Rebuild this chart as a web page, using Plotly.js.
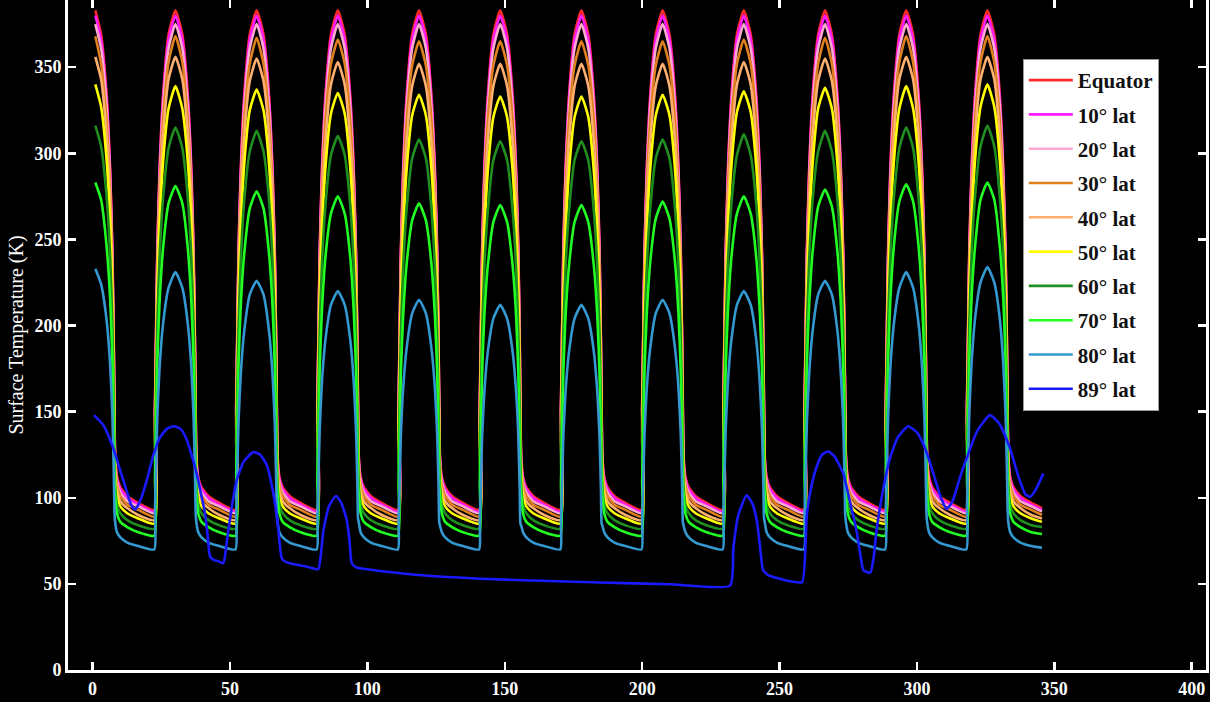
<!DOCTYPE html>
<html>
<head>
<meta charset="utf-8">
<script src="https://cdn.plot.ly/plotly-3.0.1.min.js"></script>
<style>html,body{margin:0;padding:0;background:#000;}#chart{width:1210px;height:702px;}</style>
</head>
<body>
<div id="chart"></div>
<script>
// Shared day axis for the latitude series (days)
const days = [
1, 3.1, 5.1, 6.4, 7.2, 7.7, 7.95, 8.2, 8.9, 10.1, 12.6, 16.6,
22.45, 22.7, 23.05, 23.55, 24.35, 25.65, 27.65, 30.15, 32.65, 34.65, 35.95, 36.75, 37.25, 37.5, 37.75, 38.45, 39.65, 42.15, 46.15,
52, 52.25, 52.6, 53.1, 53.9, 55.2, 57.2, 59.7, 62.2, 64.2, 65.5, 66.3, 66.8, 67.05, 67.3, 68, 69.2, 71.7, 75.7,
81.55, 81.8, 82.15, 82.65, 83.45, 84.75, 86.75, 89.25, 91.75, 93.75, 95.05, 95.85, 96.35, 96.6, 96.85, 97.55, 98.75, 101.25, 105.25,
111.1, 111.35, 111.7, 112.2, 113, 114.3, 116.3, 118.8, 121.3, 123.3, 124.6, 125.4, 125.9, 126.15, 126.4, 127.1, 128.3, 130.8, 134.8,
140.65, 140.9, 141.25, 141.75, 142.55, 143.85, 145.85, 148.35, 150.85, 152.85, 154.15, 154.95, 155.45, 155.7, 155.95, 156.65, 157.85, 160.35, 164.35,
170.2, 170.45, 170.8, 171.3, 172.1, 173.4, 175.4, 177.9, 180.4, 182.4, 183.7, 184.5, 185, 185.25, 185.5, 186.2, 187.4, 189.9, 193.9,
199.75, 200, 200.35, 200.85, 201.65, 202.95, 204.95, 207.45, 209.95, 211.95, 213.25, 214.05, 214.55, 214.8, 215.05, 215.75, 216.95, 219.45, 223.45,
229.3, 229.55, 229.9, 230.4, 231.2, 232.5, 234.5, 237, 239.5, 241.5, 242.8, 243.6, 244.1, 244.35, 244.6, 245.3, 246.5, 249, 253,
258.85, 259.1, 259.45, 259.95, 260.75, 262.05, 264.05, 266.55, 269.05, 271.05, 272.35, 273.15, 273.65, 273.9, 274.15, 274.85, 276.05, 278.55, 282.55,
288.4, 288.65, 289, 289.5, 290.3, 291.6, 293.6, 296.1, 298.6, 300.6, 301.9, 302.7, 303.2, 303.45, 303.7, 304.4, 305.6, 308.1, 312.1,
317.95, 318.2, 318.55, 319.05, 319.85, 321.15, 323.15, 325.65, 328.15, 330.15, 331.45, 332.25, 332.75, 333, 333.25, 333.95, 335.15, 337.65, 341.65,
345.5];

const equator = [
383, 369, 334, 290, 244, 190, 153, 125, 112, 106, 101, 97,
93, 153, 190, 244, 290, 334, 369, 383, 369, 334, 290, 244, 190, 153, 125, 112, 106, 101, 97,
93, 153, 190, 244, 290, 334, 369, 383, 369, 334, 290, 244, 190, 153, 125, 112, 106, 101, 97,
93, 153, 190, 244, 290, 334, 369, 383, 369, 334, 290, 244, 190, 153, 125, 112, 106, 101, 97,
93, 153, 190, 244, 290, 334, 369, 383, 369, 334, 290, 244, 190, 153, 125, 112, 106, 101, 97,
93, 153, 190, 244, 290, 334, 369, 383, 369, 334, 290, 244, 190, 153, 125, 112, 106, 101, 97,
93, 153, 190, 244, 290, 334, 369, 383, 369, 334, 290, 244, 190, 153, 125, 112, 106, 101, 97,
93, 153, 190, 244, 290, 334, 369, 383, 369, 334, 290, 244, 190, 153, 125, 112, 106, 101, 97,
93, 153, 190, 244, 290, 334, 369, 383, 369, 334, 290, 244, 190, 153, 125, 112, 106, 101, 97,
93, 153, 190, 244, 290, 334, 369, 383, 369, 334, 290, 244, 190, 153, 125, 112, 106, 101, 97,
93, 153, 190, 244, 290, 334, 369, 383, 369, 334, 290, 244, 190, 153, 125, 112, 106, 101, 97,
93, 153, 190, 244, 290, 334, 369, 383, 369, 334, 290, 244, 190, 153, 125, 112, 106, 101, 97,
94];

const lat10 = [
380, 366, 331, 288, 242, 189, 152, 124, 111, 105, 100, 96,
92, 152, 189, 242, 288, 331, 366, 380, 366, 331, 288, 242, 189, 152, 124, 111, 105, 100, 96,
92, 152, 189, 242, 288, 331, 366, 380, 366, 331, 288, 242, 189, 152, 124, 111, 105, 100, 96,
92, 152, 189, 242, 288, 331, 366, 380, 366, 331, 288, 242, 189, 152, 124, 111, 105, 100, 96,
92, 152, 189, 242, 288, 331, 366, 380, 366, 331, 288, 242, 189, 152, 124, 111, 105, 100, 96,
92, 152, 189, 242, 288, 331, 366, 380, 366, 331, 288, 242, 189, 152, 124, 111, 105, 100, 96,
92, 152, 189, 242, 288, 331, 366, 380, 366, 331, 288, 242, 189, 152, 124, 111, 105, 100, 96,
92, 152, 189, 242, 288, 331, 366, 380, 366, 331, 288, 242, 189, 152, 124, 111, 105, 100, 96,
92, 152, 189, 242, 288, 331, 366, 380, 366, 331, 288, 242, 189, 152, 124, 111, 105, 100, 96,
92, 152, 189, 242, 288, 331, 366, 380, 366, 331, 288, 242, 189, 152, 124, 111, 105, 100, 96,
92, 152, 189, 242, 288, 331, 366, 380, 366, 331, 288, 242, 189, 152, 124, 111, 105, 100, 96,
92, 152, 189, 242, 288, 331, 366, 380, 366, 331, 288, 242, 189, 152, 124, 111, 105, 100, 96,
93];

const lat20 = [
375, 361, 327, 284, 239, 186, 150, 122, 109, 103, 98, 95,
91, 150, 186, 239, 284, 327, 361, 375, 361, 327, 284, 239, 186, 150, 122, 109, 103, 98, 95,
91, 150, 186, 239, 284, 327, 361, 375, 361, 327, 284, 239, 186, 150, 122, 109, 103, 98, 95,
91, 150, 186, 239, 284, 327, 361, 375, 361, 327, 284, 239, 186, 150, 122, 109, 103, 98, 95,
91, 150, 186, 239, 284, 327, 361, 375, 361, 327, 284, 239, 186, 150, 122, 109, 103, 98, 95,
91, 150, 186, 239, 284, 327, 361, 375, 361, 327, 284, 239, 186, 150, 122, 109, 103, 98, 95,
91, 150, 186, 239, 284, 327, 361, 375, 361, 327, 284, 239, 186, 150, 122, 109, 103, 98, 95,
91, 150, 186, 239, 284, 327, 361, 375, 361, 327, 284, 239, 186, 150, 122, 109, 103, 98, 95,
91, 150, 186, 239, 284, 327, 361, 375, 361, 327, 284, 239, 186, 150, 122, 109, 103, 98, 95,
91, 150, 186, 239, 284, 327, 361, 375, 361, 327, 284, 239, 186, 150, 122, 109, 103, 98, 95,
91, 150, 186, 239, 284, 327, 361, 375, 361, 327, 284, 239, 186, 150, 122, 109, 103, 98, 95,
91, 150, 186, 239, 284, 327, 361, 375, 361, 327, 284, 239, 186, 150, 122, 109, 103, 98, 95,
92];

const lat30 = [
368, 352, 319, 277, 233, 182, 146, 120, 107, 101, 96, 93,
89, 146, 182, 233, 277, 319, 353, 368, 353, 319, 277, 233, 182, 146, 120, 107, 101, 96, 93,
89, 146, 182, 233, 277, 319, 352, 367, 352, 319, 277, 233, 182, 146, 120, 107, 101, 96, 93,
89, 146, 182, 233, 277, 319, 352, 366, 352, 319, 277, 233, 182, 146, 120, 107, 101, 96, 93,
89, 146, 182, 233, 277, 319, 351, 365, 351, 319, 277, 233, 182, 146, 120, 107, 101, 96, 93,
89, 146, 182, 233, 277, 319, 351, 365, 351, 319, 277, 233, 182, 146, 120, 107, 101, 96, 93,
89, 146, 182, 233, 277, 319, 351, 365, 351, 319, 277, 233, 182, 146, 120, 107, 101, 96, 93,
89, 146, 182, 233, 277, 319, 351, 365, 351, 319, 277, 233, 182, 146, 120, 107, 101, 96, 93,
89, 146, 182, 233, 277, 319, 352, 366, 352, 319, 277, 233, 182, 146, 120, 107, 101, 96, 93,
89, 146, 182, 233, 277, 319, 352, 367, 352, 319, 277, 233, 182, 146, 120, 107, 101, 96, 93,
89, 146, 182, 233, 277, 319, 353, 368, 353, 319, 277, 233, 182, 146, 120, 107, 101, 96, 93,
89, 146, 182, 233, 277, 319, 353, 368, 353, 319, 277, 233, 182, 146, 120, 107, 101, 96, 93,
90];

const lat40 = [
356, 343, 310, 270, 227, 177, 142, 117, 104, 98, 94, 90,
87, 142, 177, 227, 270, 310, 343, 356, 343, 310, 270, 227, 177, 142, 117, 104, 98, 94, 90,
87, 142, 177, 227, 270, 310, 342, 355, 342, 310, 270, 227, 177, 142, 117, 104, 98, 94, 90,
87, 141, 175, 224, 267, 307, 340, 353, 340, 307, 267, 224, 175, 141, 117, 104, 98, 94, 90,
87, 141, 175, 224, 267, 307, 339, 352, 339, 307, 267, 224, 175, 141, 117, 104, 98, 94, 90,
87, 141, 175, 224, 267, 307, 339, 352, 339, 307, 267, 224, 175, 141, 117, 104, 98, 94, 90,
87, 141, 175, 224, 267, 307, 339, 352, 339, 307, 267, 224, 175, 141, 117, 104, 98, 94, 90,
87, 141, 175, 224, 267, 307, 339, 352, 339, 307, 267, 224, 175, 141, 117, 104, 98, 94, 90,
87, 141, 175, 224, 267, 307, 340, 353, 340, 307, 267, 224, 175, 141, 117, 104, 98, 94, 90,
87, 142, 177, 227, 270, 310, 342, 355, 342, 310, 270, 227, 177, 142, 117, 104, 98, 94, 90,
87, 142, 177, 227, 270, 310, 343, 356, 343, 310, 270, 227, 177, 142, 117, 104, 98, 94, 90,
87, 142, 177, 227, 270, 310, 343, 356, 343, 310, 270, 227, 177, 142, 117, 104, 98, 94, 90,
88];

const lat50 = [
340, 327, 296, 258, 217, 169, 136, 113, 100, 95, 91, 88,
85, 136, 168, 216, 257, 295, 326, 339, 326, 295, 257, 216, 168, 136, 113, 100, 95, 91, 88,
85, 135, 167, 215, 255, 294, 325, 337, 325, 294, 255, 215, 167, 135, 113, 100, 95, 91, 88,
85, 134, 166, 213, 254, 292, 323, 335, 323, 292, 254, 213, 166, 134, 113, 100, 95, 91, 88,
85, 134, 166, 213, 253, 291, 322, 334, 322, 291, 253, 213, 166, 134, 113, 100, 95, 91, 88,
85, 133, 166, 212, 252, 290, 321, 333, 321, 290, 252, 212, 166, 133, 113, 100, 95, 91, 88,
85, 133, 166, 212, 252, 290, 321, 333, 321, 290, 252, 212, 166, 133, 113, 100, 95, 91, 88,
85, 134, 166, 213, 253, 291, 322, 334, 322, 291, 253, 213, 166, 134, 113, 100, 95, 91, 88,
85, 134, 167, 214, 255, 293, 324, 336, 324, 293, 255, 214, 167, 134, 113, 100, 95, 91, 88,
85, 135, 168, 215, 256, 294, 326, 338, 326, 294, 256, 215, 168, 135, 113, 100, 95, 91, 88,
85, 136, 168, 216, 257, 295, 326, 339, 326, 295, 257, 216, 168, 136, 113, 100, 95, 91, 88,
85, 136, 169, 217, 258, 296, 327, 340, 327, 296, 258, 217, 169, 136, 113, 100, 95, 91, 88,
86];

const lat60 = [
316, 304, 275, 240, 201, 157, 126, 108, 96, 91, 87, 84,
82, 126, 157, 201, 239, 274, 303, 315, 303, 274, 239, 201, 157, 126, 108, 96, 91, 87, 84,
82, 125, 156, 199, 237, 273, 301, 313, 301, 273, 237, 199, 156, 125, 108, 96, 91, 87, 84,
82, 124, 154, 197, 235, 270, 299, 310, 299, 270, 235, 197, 154, 124, 108, 96, 91, 87, 84,
82, 123, 153, 196, 233, 268, 297, 308, 297, 268, 233, 196, 153, 123, 108, 96, 91, 87, 84,
82, 123, 153, 196, 233, 267, 296, 307, 296, 267, 233, 196, 153, 123, 108, 96, 91, 87, 84,
82, 123, 153, 196, 233, 267, 296, 307, 296, 267, 233, 196, 153, 123, 108, 96, 91, 87, 84,
82, 123, 153, 196, 233, 268, 297, 308, 297, 268, 233, 196, 153, 123, 108, 96, 91, 87, 84,
82, 124, 155, 198, 236, 271, 299, 311, 299, 271, 236, 198, 155, 124, 108, 96, 91, 87, 84,
82, 125, 156, 199, 237, 273, 301, 313, 301, 273, 237, 199, 156, 125, 108, 96, 91, 87, 84,
82, 126, 157, 201, 239, 274, 303, 315, 303, 274, 239, 201, 157, 126, 108, 96, 91, 87, 84,
82, 126, 157, 201, 240, 275, 304, 316, 304, 275, 240, 201, 157, 126, 108, 96, 91, 87, 84,
83];

const lat70 = [
283, 273, 246, 215, 180, 141, 113, 102, 91, 86, 83, 80,
78, 112, 140, 179, 213, 245, 271, 281, 271, 245, 213, 179, 140, 112, 102, 91, 86, 83, 80,
78, 111, 138, 177, 211, 242, 268, 278, 268, 242, 211, 177, 138, 111, 102, 91, 86, 83, 80,
78, 110, 137, 175, 208, 240, 265, 275, 265, 240, 208, 175, 137, 110, 102, 91, 86, 83, 80,
78, 108, 135, 173, 205, 236, 261, 271, 261, 236, 205, 173, 135, 108, 102, 91, 86, 83, 80,
78, 108, 134, 172, 205, 235, 260, 270, 260, 235, 205, 172, 134, 108, 102, 91, 86, 83, 80,
78, 108, 134, 172, 205, 235, 260, 270, 260, 235, 205, 172, 134, 108, 102, 91, 86, 83, 80,
78, 109, 135, 173, 206, 237, 262, 272, 262, 237, 206, 173, 135, 109, 102, 91, 86, 83, 80,
78, 110, 137, 175, 208, 240, 265, 275, 265, 240, 208, 175, 137, 110, 102, 91, 86, 83, 80,
78, 112, 139, 178, 211, 243, 269, 279, 269, 243, 211, 178, 139, 112, 102, 91, 86, 83, 80,
78, 113, 140, 180, 214, 246, 272, 282, 272, 246, 214, 180, 140, 113, 102, 91, 86, 83, 80,
78, 113, 141, 180, 215, 246, 273, 283, 273, 246, 215, 180, 141, 113, 102, 91, 86, 83, 80,
79];

const lat80 = [
233, 224, 203, 177, 148, 116, 93, 86, 80, 77, 74, 72,
70, 92, 115, 147, 175, 201, 222, 231, 222, 201, 175, 147, 115, 92, 86, 80, 77, 74, 72,
70, 90, 112, 144, 171, 197, 218, 226, 218, 197, 171, 144, 112, 90, 86, 80, 77, 74, 72,
70, 88, 109, 140, 167, 192, 212, 220, 212, 192, 167, 140, 109, 88, 86, 80, 77, 74, 72,
70, 86, 107, 137, 163, 187, 207, 215, 207, 187, 163, 137, 107, 86, 84, 80, 77, 74, 72,
70, 85, 105, 135, 161, 185, 204, 212, 204, 185, 161, 135, 105, 85, 84, 80, 77, 74, 72,
70, 85, 105, 135, 161, 185, 204, 212, 204, 185, 161, 135, 105, 85, 84, 80, 77, 74, 72,
70, 86, 107, 137, 163, 187, 207, 215, 207, 187, 163, 137, 107, 86, 84, 80, 77, 74, 72,
70, 88, 109, 140, 167, 192, 212, 220, 212, 192, 167, 140, 109, 88, 86, 80, 77, 74, 72,
70, 90, 112, 144, 171, 197, 218, 226, 218, 197, 171, 144, 112, 90, 86, 80, 77, 74, 72,
70, 92, 115, 147, 175, 201, 222, 231, 222, 201, 175, 147, 115, 92, 86, 80, 77, 74, 72,
70, 94, 116, 149, 177, 204, 225, 234, 225, 204, 177, 149, 116, 94, 86, 80, 77, 74, 72,
71];

// 89° latitude has its own sampling
const poleDays = [0.5, 4, 7.5, 10, 12.4, 14, 15.4, 17, 19.7, 22, 24.5, 27, 29.6, 32, 34.2, 36, 37.9, 39.5, 40.9, 42, 42.7, 44, 46, 47.6, 48.5, 49.4, 51, 52.4, 55, 58.5, 61, 63.4, 65.5, 67, 68, 68.8, 70, 73, 78, 82.1, 83, 84, 86, 88.6, 90.5, 92.5, 93.5, 94.3, 96, 100, 104.6, 120, 141, 160, 184.7, 210, 232, 233.2, 235, 238, 240, 241.7, 243, 244, 246, 250.1, 254, 258.2, 259.9, 261.5, 263.5, 265.5, 267.7, 270, 273.2, 276, 278, 279.5, 280.5, 283, 284.3, 285.3, 287.5, 290.2, 293, 296.8, 300, 302.9, 306, 308.5, 310.8, 313, 315.5, 318.1, 322, 326.6, 330, 333.8, 337, 339.5, 341.1, 343, 346];
const lat89 = [148, 142, 129, 116, 104, 96, 93, 97, 110, 124, 135, 140, 141.5, 140, 134, 125, 114, 102, 91, 76, 66, 64, 63, 62, 70, 81, 98, 110, 121, 126.5, 125, 119, 105, 90, 75, 65, 63, 61.5, 60, 58.5, 66, 81, 95, 101, 97, 87, 75, 62, 59.5, 58.5, 57.5, 55, 53, 52, 50.8, 49.8, 49, 71, 90, 101.5, 97, 87, 70, 58, 55, 53, 51.5, 51, 90, 106, 118, 125, 127, 124, 114, 95, 81, 66, 58, 56.5, 66, 81, 103, 123, 135, 141.5, 138, 129, 114, 101, 93.5, 98, 111, 123, 139, 148, 143, 129, 112, 102, 100.5, 104, 114];

const seriesNames = ['Equator', '10° lat', '20° lat', '30° lat', '40° lat', '50° lat', '60° lat', '70° lat', '80° lat', '89° lat'];
const seriesColors = ['#ff2a2a', '#ff1aff', '#ffa8d0', '#e0801e', '#ffb070', '#ffff00', '#1f8f1f', '#22ff22', '#3399d0', '#1a1aff'];
const seriesY = [equator, lat10, lat20, lat30, lat40, lat50, lat60, lat70, lat80, lat89];

const traces = seriesY.map((y, i) => ({
  type: 'scatter', mode: 'lines',
  x: i === 9 ? poleDays : days, y: y,
  name: seriesNames[i], legendgroup: 'g' + i,
  line: {color: seriesColors[i], width: 2.6, shape: 'spline', smoothing: 0.5}
}));

const axisFont = {family: 'Liberation Serif', size: 18, color: '#ffffff', weight: 'bold'};
const layout = {
  width: 1210, height: 702,
  paper_bgcolor: '#000', plot_bgcolor: '#000',
  margin: {l: 68, r: 4, t: 0, b: 32},
  showlegend: true,
  legend: {
    x: 0.839, y: 0.912, xanchor: 'left', yanchor: 'top',
    bgcolor: '#ffffff', bordercolor: '#999999', borderwidth: 1,
    font: {family: 'Liberation Serif', size: 21, color: '#111', weight: 'bold'},
    itemwidth: 44, tracegroupgap: 4, traceorder: 'grouped'
  },
  xaxis: {
    range: [-8.95, 405.2], tickvals: [0, 50, 100, 150, 200, 250, 300, 350, 400],
    showgrid: false, zeroline: false, showline: true, linecolor: '#fff', linewidth: 3,
    mirror: 'ticks', ticks: 'inside', ticklen: 8, tickwidth: 2.5, tickcolor: '#fff',
    tickfont: axisFont
  },
  yaxis: {
    range: [0, 389], tickvals: [0, 50, 100, 150, 200, 250, 300, 350],
    showgrid: false, zeroline: false, showline: true, linecolor: '#fff', linewidth: 3,
    mirror: 'ticks', ticks: 'inside', ticklen: 8, tickwidth: 2.5, tickcolor: '#fff',
    tickfont: axisFont,
    title: {text: 'Surface Temperature (K)', font: {family: 'Liberation Serif', size: 20, color: '#fff'}, standoff: 6}
  }
};
Plotly.newPlot('chart', traces, layout, {displayModeBar: false, staticPlot: true});
</script>
</body>
</html>
